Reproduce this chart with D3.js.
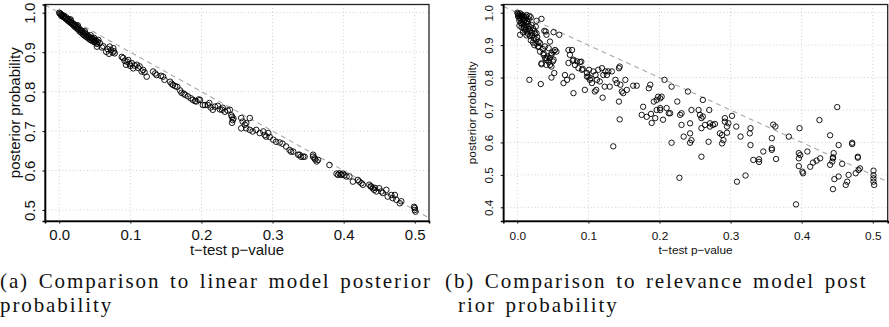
<!DOCTYPE html>
<html>
<head>
<meta charset="utf-8">
<script src="https://cdn.jsdelivr.net/npm/d3@7"></script>
<style>
  body { margin: 0; background: #fff; }
  svg { display: block; }
</style>
</head>
<body>
<div id="fig"></div>
<script>
// (t-test p-value, posterior probability)
const linearPoints = [
  [0.000,1.000],[0.001,0.998],[0.002,0.997],[0.003,0.995],[0.003,0.992],[0.004,0.994],[0.005,0.991],[0.006,0.989],
  [0.007,0.992],[0.008,0.987],[0.009,0.985],[0.010,0.988],[0.011,0.983],[0.012,0.980],[0.013,0.984],[0.014,0.978],
  [0.015,0.976],[0.016,0.980],[0.017,0.973],[0.018,0.975],[0.019,0.970],[0.020,0.972],[0.021,0.966],[0.022,0.969],
  [0.023,0.963],[0.024,0.967],[0.025,0.960],[0.026,0.963],[0.027,0.957],[0.028,0.960],[0.029,0.952],[0.030,0.956],
  [0.031,0.950],[0.032,0.954],[0.033,0.946],[0.034,0.951],[0.035,0.943],[0.036,0.948],[0.037,0.940],[0.038,0.945],
  [0.039,0.938],[0.040,0.942],[0.041,0.935],[0.042,0.939],[0.043,0.932],[0.044,0.937],[0.045,0.930],[0.046,0.935],
  [0.047,0.928],[0.048,0.933],[0.049,0.926],[0.050,0.930],[0.051,0.924],[0.052,0.929],[0.053,0.921],[0.054,0.926],
  [0.055,0.931],[0.053,0.914],[0.057,0.923],[0.049,0.936],[0.044,0.943],[0.036,0.953],[0.026,0.968],[0.016,0.983],
  [0.060,0.912],[0.062,0.915],[0.066,0.901],[0.068,0.908],[0.071,0.914],[0.073,0.905],[0.076,0.910],[0.077,0.902],
  [0.078,0.897],[0.075,0.899],[0.070,0.896],
  [0.088,0.888],[0.090,0.885],[0.092,0.878],[0.095,0.876],[0.097,0.880],[0.099,0.870],[0.102,0.872],[0.104,0.859],
  [0.106,0.866],[0.109,0.868],[0.111,0.860],[0.113,0.864],[0.116,0.851],[0.118,0.855],[0.120,0.849],[0.123,0.838],
  [0.100,0.865],[0.094,0.868],
  [0.132,0.851],[0.135,0.846],[0.137,0.842],[0.143,0.840],[0.146,0.838],[0.148,0.830],[0.156,0.825],[0.158,0.820],
  [0.160,0.817],[0.163,0.814],[0.166,0.812],[0.170,0.803],[0.172,0.797],[0.175,0.795],[0.177,0.792],[0.181,0.788],
  [0.185,0.783],[0.188,0.779],[0.191,0.776],[0.193,0.775],[0.196,0.780],[0.198,0.779],
  [0.202,0.766],[0.205,0.766],[0.209,0.766],[0.211,0.771],[0.213,0.760],[0.216,0.754],[0.219,0.762],[0.223,0.764],
  [0.226,0.755],[0.229,0.754],[0.230,0.759],[0.233,0.749],[0.237,0.752],[0.240,0.754],[0.242,0.740],[0.243,0.736],
  [0.244,0.728],[0.243,0.721],[0.245,0.732],[0.256,0.733],[0.258,0.724],[0.261,0.716],[0.263,0.720],[0.268,0.733],
  [0.256,0.707],[0.263,0.707],[0.268,0.703],
  [0.272,0.699],[0.277,0.703],[0.282,0.695],[0.287,0.699],[0.289,0.690],[0.291,0.686],[0.294,0.695],[0.296,0.685],
  [0.301,0.678],[0.305,0.673],[0.310,0.671],[0.314,0.668],[0.319,0.661],[0.324,0.652],[0.326,0.648],[0.329,0.648],
  [0.336,0.640],[0.338,0.640],[0.340,0.635],[0.343,0.635],[0.345,0.635],[0.357,0.640],[0.357,0.635],[0.359,0.631],
  [0.362,0.623],[0.364,0.627],[0.360,0.628],
  [0.380,0.614],[0.390,0.592],[0.392,0.589],[0.394,0.593],[0.396,0.590],[0.397,0.589],[0.399,0.592],[0.401,0.588],
  [0.404,0.585],[0.408,0.585],[0.413,0.572],[0.420,0.576],[0.422,0.572],[0.425,0.568],[0.427,0.564],[0.436,0.564],
  [0.439,0.559],[0.441,0.555],[0.443,0.551],[0.446,0.547],[0.450,0.555],[0.453,0.547],[0.455,0.543],[0.460,0.551],
  [0.462,0.534],[0.467,0.538],[0.469,0.530],[0.472,0.538],[0.474,0.526],[0.479,0.517],[0.481,0.522],[0.500,0.505],
  [0.500,0.500],[0.501,0.496],[0.499,0.508],[0.438,0.560],[0.444,0.556]
]

const relevancePoints = [
  [0.000,1.000],[0.001,0.997],[0.002,0.995],[0.003,0.992],[0.004,0.998],[0.005,0.990],[0.006,0.994],[0.007,0.987],
  [0.008,0.991],[0.002,0.985],[0.004,0.982],[0.006,0.978],[0.003,0.975],[0.008,0.980],[0.010,0.985],[0.009,0.975],
  [0.011,0.978],[0.012,0.970],[0.005,0.968],[0.007,0.965],[0.010,0.962],[0.013,0.960],[0.014,0.972],[0.015,0.966],
  [0.003,0.960],[0.006,0.955],[0.009,0.952],[0.001,0.990],[0.012,0.988],[0.013,0.993],[0.016,0.980],[0.017,0.990],
  [0.019,0.986],[0.004,0.932],[0.011,0.945],[0.008,0.940],[0.027,0.975],[0.034,0.981],
  [0.010,0.955],[0.012,0.948],[0.014,0.942],[0.016,0.950],[0.018,0.945],[0.020,0.938],[0.022,0.952],[0.024,0.944],
  [0.015,0.935],[0.018,0.928],[0.021,0.930],[0.023,0.922],[0.025,0.935],[0.026,0.918],[0.028,0.925],[0.019,0.915],
  [0.022,0.908],[0.024,0.900],[0.027,0.905],[0.029,0.895],[0.030,0.910],[0.017,0.958],[0.020,0.962],[0.026,0.957],
  [0.013,0.930],
  [0.027,0.937],[0.040,0.942],[0.051,0.940],[0.059,0.932],[0.038,0.944],[0.041,0.932],[0.032,0.906],[0.037,0.875],
  [0.034,0.844],[0.041,0.860],[0.046,0.839],[0.044,0.891],[0.048,0.875],[0.051,0.855],[0.053,0.885],[0.055,0.880],
  [0.046,0.911],[0.039,0.896],[0.032,0.880],[0.030,0.896],[0.037,0.870],[0.039,0.860],[0.041,0.855],[0.044,0.849],
  [0.046,0.860],[0.048,0.870],[0.051,0.880],[0.034,0.841],[0.041,0.839],[0.048,0.834],[0.043,0.865],[0.050,0.850],
  [0.036,0.888],
  [0.072,0.885],[0.077,0.885],[0.074,0.870],[0.079,0.855],[0.072,0.845],[0.081,0.839],[0.078,0.852],[0.090,0.849],
  [0.086,0.829],[0.091,0.824],[0.098,0.814],[0.100,0.803],[0.102,0.793],[0.105,0.783],[0.107,0.819],[0.110,0.808],
  [0.114,0.824],[0.119,0.829],[0.121,0.808],[0.124,0.819],[0.112,0.793],[0.116,0.788],[0.095,0.762],[0.109,0.757],
  [0.098,0.803],[0.017,0.793],[0.033,0.780],[0.048,0.800],[0.052,0.814],[0.067,0.808],[0.070,0.793],[0.065,0.783],
  [0.077,0.803],[0.079,0.752],[0.084,0.850],[0.088,0.848],[0.092,0.827],[0.101,0.824],[0.103,0.798],[0.111,0.762],
  [0.120,0.738],[0.123,0.772],[0.126,0.808],[0.128,0.819],[0.130,0.772],[0.133,0.819],[0.138,0.793],[0.140,0.783],
  [0.143,0.829],[0.144,0.834],[0.145,0.778],[0.147,0.757],[0.143,0.726],[0.149,0.752],[0.135,0.588],[0.144,0.671],
  [0.152,0.793],[0.154,0.762],[0.163,0.775],[0.168,0.775],[0.185,0.767],[0.187,0.778],[0.192,0.726],[0.196,0.731],
  [0.201,0.736],[0.207,0.793],[0.175,0.685],[0.177,0.710],[0.182,0.679],[0.188,0.688],[0.189,0.660],[0.194,0.675],
  [0.196,0.700],[0.198,0.741],[0.201,0.706],[0.205,0.670],[0.210,0.706],[0.215,0.690],[0.203,0.741],[0.201,0.700],
  [0.217,0.772],
  [0.213,0.690],[0.225,0.726],[0.229,0.685],[0.231,0.690],[0.240,0.757],[0.245,0.700],[0.243,0.659],[0.231,0.654],
  [0.234,0.618],[0.243,0.628],[0.245,0.607],[0.243,0.599],[0.217,0.599],[0.255,0.700],[0.257,0.685],[0.259,0.675],
  [0.261,0.680],[0.261,0.731],[0.270,0.700],[0.259,0.644],[0.264,0.654],[0.271,0.659],[0.271,0.649],[0.275,0.654],
  [0.278,0.657],[0.285,0.628],[0.288,0.623],[0.295,0.630],[0.292,0.675],[0.292,0.664],[0.297,0.659],[0.295,0.649],
  [0.302,0.682],[0.308,0.649],[0.314,0.618],[0.288,0.597],[0.290,0.607],[0.269,0.602],[0.259,0.556],[0.228,0.491],
  [0.309,0.479],[0.321,0.498],
  [0.328,0.644],[0.327,0.628],[0.328,0.592],[0.346,0.572],[0.358,0.613],[0.358,0.582],[0.360,0.655],[0.363,0.649],
  [0.382,0.618],[0.397,0.644],[0.396,0.567],[0.408,0.572],[0.425,0.669],[0.440,0.622],[0.450,0.709],[0.452,0.592],
  [0.471,0.599],[0.471,0.595],[0.479,0.556],[0.445,0.567],[0.444,0.551],
  [0.332,0.546],[0.340,0.548],[0.340,0.540],[0.358,0.577],[0.364,0.549],[0.392,0.409],[0.396,0.527],[0.396,0.551],
  [0.398,0.561],[0.401,0.510],[0.402,0.505],[0.412,0.525],[0.416,0.538],[0.421,0.544],[0.426,0.551],[0.440,0.531],
  [0.444,0.554],[0.443,0.541],[0.446,0.487],[0.444,0.456],[0.452,0.495],[0.457,0.534],[0.462,0.469],[0.464,0.479],
  [0.466,0.500],[0.476,0.505],[0.480,0.515],[0.479,0.553],[0.482,0.520],[0.501,0.513],[0.501,0.499],[0.501,0.489],
  [0.501,0.479],[0.502,0.469]
]

const xTicks = [0, 0.1, 0.2, 0.3, 0.4, 0.5]
const yTicksLinear = [0.5, 0.6, 0.7, 0.8, 0.9, 1.0]
const yTicksRelevance = [0.4, 0.5, 0.6, 0.7, 0.8, 0.9, 1.0]
const xTitle = 't\u2212test p\u2212value'
const yTitle = 'posterior probability'
const captionA = ['(a) Comparison to linear model posterior', 'probability']
const captionB = ['(b) Comparison to relevance model post', 'rior probability']

const width = 889
const height = 327

const svg = d3.select('#fig')
  .append('svg')
  .attr('width', width)
  .attr('height', height)

function drawPanel(points, yTicks, cfg) {
  const x = d3.scaleLinear().domain(cfg.xDomain).range([cfg.left, cfg.right])
  const y = d3.scaleLinear().domain(cfg.yDomain).range([cfg.bottom, cfg.top])
  const g = svg.append('g')
  const font = "'Liberation Sans', Arial, Helvetica, sans-serif"

  // dotted grid
  g.append('g').selectAll('line.vx')
    .data(xTicks).enter().append('line')
    .attr('x1', d => x(d)).attr('x2', d => x(d))
    .attr('y1', cfg.top).attr('y2', cfg.bottom)
    .attr('stroke', '#cfcfcf').attr('stroke-dasharray', '1,2.5')
  g.append('g').selectAll('line.hy')
    .data(yTicks).enter().append('line')
    .attr('x1', cfg.left).attr('x2', cfg.right)
    .attr('y1', d => y(d)).attr('y2', d => y(d))
    .attr('stroke', '#cfcfcf').attr('stroke-dasharray', '1,2.5')

  // y = 1 - x reference
  const clipId = 'clip' + cfg.id
  svg.append('clipPath').attr('id', clipId)
    .append('rect')
    .attr('x', cfg.left).attr('y', cfg.top)
    .attr('width', cfg.right - cfg.left).attr('height', cfg.bottom - cfg.top)
  g.append('line')
    .attr('clip-path', `url(#${clipId})`)
    .attr('x1', x(cfg.xDomain[0])).attr('y1', y(1 - cfg.xDomain[0]))
    .attr('x2', x(cfg.xDomain[1])).attr('y2', y(1 - cfg.xDomain[1]))
    .attr('stroke', '#a8a8a8').attr('stroke-width', 1.1)
    .attr('stroke-dasharray', '5,4')

  g.append('g').selectAll('circle')
    .data(points).enter().append('circle')
    .attr('cx', d => x(d[0]))
    .attr('cy', d => y(d[1]))
    .attr('r', cfg.r)
    .attr('fill', 'none')
    .attr('stroke', '#000')
    .attr('stroke-width', 0.9)

  // box
  g.append('rect')
    .attr('x', cfg.left).attr('y', cfg.top)
    .attr('width', cfg.right - cfg.left).attr('height', cfg.bottom - cfg.top)
    .attr('fill', 'none').attr('stroke', '#222').attr('stroke-width', 1.3)

  const xAxis = d3.axisBottom(x).tickValues(xTicks).tickFormat(d3.format('.1f'))
    .tickSize(2.5).tickPadding(0)
  const gx = g.append('g')
    .attr('transform', `translate(0, ${cfg.bottom})`)
    .call(xAxis)
  gx.select('.domain').attr('stroke', '#000').attr('stroke-width', 1.6)
  gx.selectAll('text')
    .attr('font-family', font).attr('font-size', cfg.fontSize)
    .attr('fill', '#111')
    .attr('dy', null)
    .attr('y', cfg.xTickBase - cfg.bottom)

  const yAxis = d3.axisLeft(y).tickValues(yTicks).tickFormat(d3.format('.1f'))
    .tickSize(2.5).tickPadding(0)
  const gy = g.append('g')
    .attr('transform', `translate(${cfg.left}, 0)`)
    .call(yAxis)
  gy.select('.domain').attr('stroke', '#000').attr('stroke-width', 1.6)
  gy.selectAll('.tick text')
    .attr('font-family', font).attr('font-size', cfg.fontSize)
    .attr('fill', '#111')
    .attr('x', null).attr('dy', null)
    .attr('text-anchor', 'middle')
    .attr('transform', `translate(${cfg.yTickBase - cfg.left}, 0) rotate(-90)`)

  g.append('text')
    .attr('x', (cfg.left + cfg.right) / 2)
    .attr('y', cfg.xTitleBase)
    .attr('text-anchor', 'middle')
    .attr('font-family', font).attr('font-size', cfg.fontSize)
    .attr('fill', '#111')
    .text(xTitle)

  g.append('text')
    .attr('transform', `translate(${cfg.yTitleBase}, ${(cfg.top + cfg.bottom) / 2}) rotate(-90)`)
    .attr('text-anchor', 'middle')
    .attr('font-family', font).attr('font-size', cfg.fontSize)
    .attr('fill', '#111')
    .text(yTitle)
}

drawPanel(linearPoints, yTicksLinear, {
  id: 'a', left: 45, right: 429, top: 4.5, bottom: 221,
  xDomain: [-0.02, 0.52], yDomain: [0.4721, 1.0208],
  fontSize: 15, xTickBase: 239.5, xTitleBase: 255, yTickBase: 34.5, yTitleBase: 20, r: 2.8
})

drawPanel(relevancePoints, yTicksRelevance, {
  id: 'b', left: 503.3, right: 887.7, top: 4.5, bottom: 221,
  xDomain: [-0.0197, 0.521], yDomain: [0.3578, 1.0253],
  fontSize: 11.8, xTickBase: 240, xTitleBase: 254, yTickBase: 493, yTitleBase: 476, r: 2.7
})

// captions
const capFont = "'Liberation Serif', 'Times New Roman', serif"
const caps = [
  { lines: captionA, x: [0, 0] },
  { lines: captionB, x: [445, 458] }
]
caps.forEach(c => {
  c.lines.forEach((line, i) => {
    svg.append('text')
      .attr('x', c.x[i])
      .attr('y', i === 0 ? 288 : 311.5)
      .attr('font-family', capFont)
      .attr('font-size', 21)
      .attr('letter-spacing', 1.9)
      .attr('word-spacing', 2.5)
      .attr('fill', '#111')
      .text(line)
  })
})
</script>
</body>
</html>
